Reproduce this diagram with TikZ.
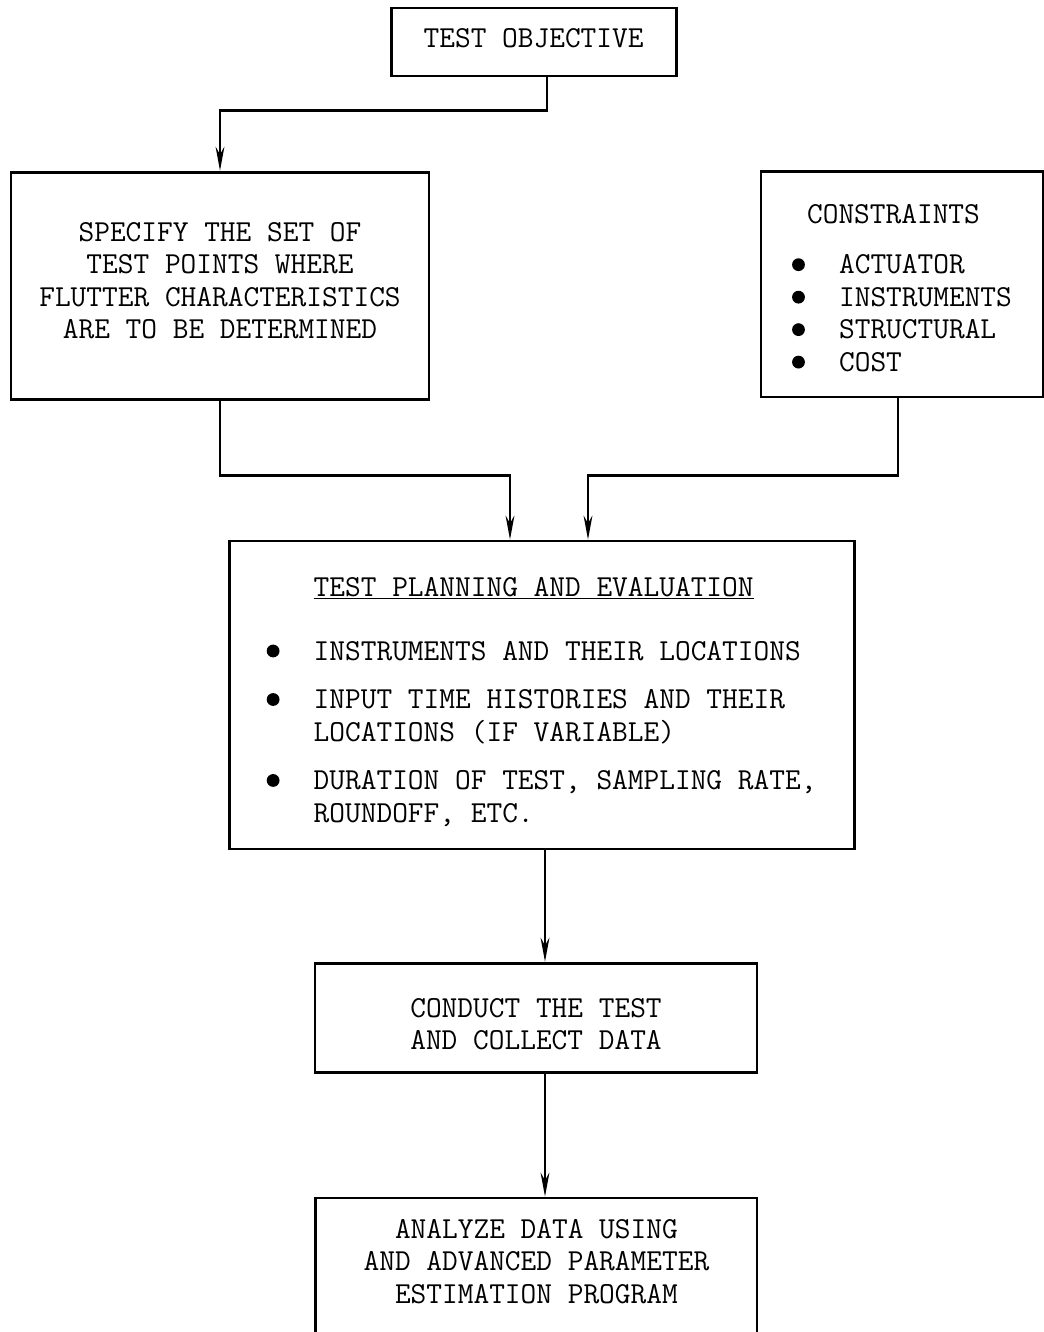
\documentclass[tikz,border=0pt]{standalone}
\usepackage{tikz}
\usetikzlibrary{arrows.meta}

\newcommand{\blob}{\tikz[baseline=-0.3em]\fill (0,0) circle (0.16cm);}

\tikzset{
  stagebox/.style={draw,line width=2pt,inner sep=0pt,
                   font=\fontsize{21.7}{23.1}\selectfont\ttfamily,align=center},
  flow/.style={line width=1.8pt,-{Stealth[length=6mm,width=2.2mm]}},
  link/.style={line width=1.8pt}
}

\begin{document}
\begin{tikzpicture}
        \useasboundingbox (0,0) rectangle (26.1,-33.3);

        \node (objective)   at (13.34,-1.05)  [stagebox,minimum width=7.125cm,minimum height=1.7cm]
              {TEST OBJECTIVE\rule[-0.2cm]{0pt}{0pt}};
        \node (specify)     at (5.5,-7.14)    [stagebox,minimum width=10.45cm,minimum height=5.675cm]
              {SPECIFY THE SET OF\\TEST POINTS WHERE\\FLUTTER CHARACTERISTICS\\ARE TO BE DETERMINED\rule[-0.25cm]{0pt}{0pt}};
        \node (constraints) at (22.55,-7.11)  [stagebox,minimum width=7.05cm,minimum height=5.625cm]
              {\begin{tabular}{@{}l@{\hspace{0.855cm}}l@{}}
               \multicolumn{2}{@{\hspace{0.375cm}}l@{}}{\rule{0pt}{0.9cm}CONSTRAINTS}\\[12.5pt]
               \blob & ACTUATOR\\
               \blob & INSTRUMENTS\\
               \blob & STRUCTURAL\\
               \blob & COST
               \end{tabular}};
        \node (planning)    at (13.54,-17.375) [stagebox,minimum width=15.625cm,minimum height=7.7cm]
              {\begin{tabular}{@{}l@{\hspace{0.855cm}}l@{}}
               & \rule{0pt}{0.95cm}\underline{TEST PLANNING AND EVALUATION}\\[22.4pt]
               \blob & INSTRUMENTS AND THEIR LOCATIONS\\[11.4pt]
               \blob & INPUT TIME HISTORIES AND THEIR\\
                     & LOCATIONS (IF VARIABLE)\\[11.4pt]
               \blob & DURATION OF TEST, SAMPLING RATE,\\
                     & ROUNDOFF, ETC.
               \end{tabular}};
        \node (conduct)     at (13.4,-25.44)  [stagebox,minimum width=11.05cm,minimum height=2.725cm]
              {\rule{0pt}{0.8cm}CONDUCT THE TEST\\AND COLLECT DATA};
        \node (analyze)     at (13.41,-31.7)  [stagebox,minimum width=11.025cm,minimum height=3.5cm]
              {ANALYZE DATA USING\\AND ADVANCED PARAMETER\\ESTIMATION PROGRAM\rule[-0.35cm]{0pt}{0pt}};

        \coordinate (objOut) at ([xshift=0.34cm]objective.south);
        \coordinate (conOut) at ([xshift=-0.1cm]constraints.south);
        \coordinate (mergeL) at ([xshift=-0.79cm]planning.north);
        \coordinate (mergeR) at ([xshift=1.16cm]planning.north);
        \coordinate (spine)  at (13.625,0);

        \draw[flow] (objOut) |- ([yshift=1.5cm]specify.north) -- (specify.north);
        \draw[flow] (specify.south) |- ([yshift=1.6cm]mergeL) -- (mergeL);
        \draw[flow] (conOut) |- ([yshift=1.6cm]mergeR) -- (mergeR);
        \draw[flow] (planning.south -| spine) -- (conduct.north -| spine);
        \draw[flow] (conduct.south -| spine) -- (analyze.north -| spine);
    \end{tikzpicture}
\end{document}
